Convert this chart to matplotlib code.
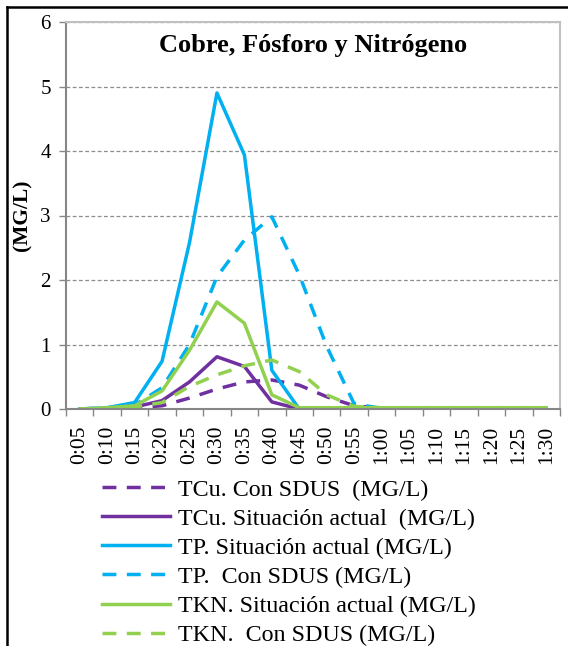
import matplotlib
matplotlib.use("Agg")
import matplotlib.pyplot as plt
from matplotlib.lines import Line2D
import numpy as np

plt.rcParams['font.family'] = ['Liberation Serif', 'DejaVu Serif']

# time steps (h:mm) and concentrations in MG/L
horas = ["0:05", "0:10", "0:15", "0:20", "0:25", "0:30", "0:35", "0:40", "0:45",
         "0:50", "0:55", "1:00", "1:05", "1:10", "1:15", "1:20", "1:25", "1:30"]

tcu_sdus = [0, 0, 0.02, 0.05, 0.17, 0.31, 0.42, 0.45, 0.37, 0.19, 0.05,
            0.01, 0.01, 0.01, 0.01, 0.01, 0.01, 0.01]
tcu_actual = [0, 0, 0.03, 0.13, 0.42, 0.81, 0.66, 0.11, 0, 0, 0,
              0, 0, 0, 0, 0, 0, 0]
tp_actual = [0, 0.02, 0.1, 0.74, 2.58, 4.9, 3.94, 0.6, 0, 0, 0,
             0, 0, 0, 0, 0, 0, 0]
tp_sdus = [0, 0.02, 0.06, 0.33, 1.0, 2.05, 2.62, 2.98, 2.08, 0.97, 0.08,
           0.01, 0.01, 0.01, 0.01, 0.01, 0.01, 0.01]
tkn_actual = [0, 0.02, 0.05, 0.28, 0.91, 1.66, 1.33, 0.22, 0.02, 0.02, 0.02,
              0.02, 0.02, 0.02, 0.02, 0.02, 0.02, 0.02]
tkn_sdus = [0, 0.01, 0.03, 0.1, 0.35, 0.53, 0.67, 0.76, 0.58, 0.22, 0.04,
            0.02, 0.02, 0.02, 0.02, 0.02, 0.02, 0.02]

morado = '#7030A0'
azul = '#00B0F0'
verde = '#92D050'

fig = plt.figure(figsize=(5.68, 6.46), dpi=100)
ax = fig.add_axes([66/568, 1-409/646, 494/568, 387/646])

x = np.arange(len(horas))
lw = 2.5
dash = (4, 3)
ax.plot(x, tcu_sdus, color=morado, lw=lw, ls=(0, dash), label="TCu. Con SDUS  (MG/L)")
ax.plot(x, tcu_actual, color=morado, lw=lw, label="TCu. Situación actual  (MG/L)")
ax.plot(x, tp_actual, color=azul, lw=lw, label="TP. Situación actual (MG/L)")
ax.plot(x, tp_sdus, color=azul, lw=lw, ls=(0, dash), label="TP.  Con SDUS (MG/L)")
ax.plot(x, tkn_actual, color=verde, lw=lw, label="TKN. Situación actual (MG/L)")
ax.plot(x, tkn_sdus, color=verde, lw=lw, ls=(0, dash), label="TKN.  Con SDUS (MG/L)")

ax.set_xlim(-0.5, len(horas) - 0.5)
ax.set_ylim(0, 6)
ax.set_yticks(range(7))
ax.set_xticks(x)
ax.set_xticklabels(horas, rotation=90)
ax.set_xticks(np.arange(len(horas) + 1) - 0.5, minor=True)
ax.tick_params(axis='x', which='major', length=0, labelsize=15.5, pad=12)
ax.tick_params(axis='x', which='minor', length=5, width=1, color='#868686', direction='out')
ax.tick_params(axis='y', length=5, width=1, color='#868686', labelsize=15, pad=6)

ax.grid(axis='y', color='#8c8c8c', ls=(0, (3, 2)), lw=0.9)
ax.set_axisbelow(True)
for s in ['left', 'bottom']:
    ax.spines[s].set_color('#868686')
    ax.spines[s].set_linewidth(1.5)
for s in ['top', 'right']:
    ax.spines[s].set_color('#c0c0c0')
    ax.spines[s].set_linewidth(1.5)

fig.text(22/568, 1-215/646, "(MG/L)", rotation=90, ha='center', va='center',
         fontsize=15.5, fontweight='bold')
ax.text(0.5, 0.94, "Cobre, Fósforo y Nitrógeno", transform=ax.transAxes,
        ha='center', va='center', fontsize=19, fontweight='bold')

fig.legend(loc='upper left', bbox_to_anchor=(102/568, 1-479/646), frameon=False,
           fontsize=17.3, handlelength=2.85, handletextpad=0.33, labelspacing=0.3,
           borderaxespad=0, borderpad=0)

# outer frame (left and top edges)
fig.add_artist(Line2D([7/568, 7/568], [0, 1-7/646], color='black', lw=1.8,
                      transform=fig.transFigure))
fig.add_artist(Line2D([7/568, 1], [1-7/646, 1-7/646], color='black', lw=1.8,
                      transform=fig.transFigure))

fig.savefig("out.png", dpi=100)
